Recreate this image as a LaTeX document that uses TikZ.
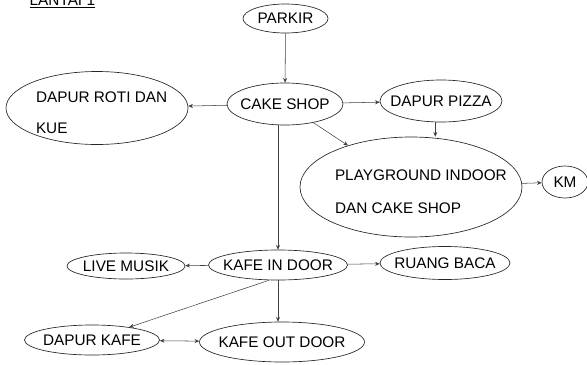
\documentclass[tikz,border=0pt]{standalone}
\usepackage{fontspec}
\setmainfont{Liberation Sans}
\usetikzlibrary{arrows.meta,shapes.geometric}
\newcommand{\lbl}[1]{\makebox[0pt]{#1}}

\begin{document}
\begin{tikzpicture}[%
x={(0.75pt,0pt)},
y={(0pt,-0.75pt)},
font=\fontsize{11.5}{13.8}\selectfont,
>={Stealth[length=3.5pt,width=3pt]},
ruang/.style={ellipse,draw=black!85,line width=0.5pt,inner sep=0pt},
alur/.style={draw=black!75,line width=0.4pt,->},
]
\useasboundingbox (0,0) rectangle (587,365);

\node[anchor=base west](judul) at (25,5){\underline{LANTAI 1}};

%Ruang
\node[ruang,minimum width=63.75pt,minimum height=21.75pt](parkir) at (285.5,18.5){\lbl{PARKIR}};
\node[ruang,minimum width=87pt,minimum height=31.5pt](cakeshop) at (285,104){\lbl{CAKE SHOP}};
\node[ruang,minimum width=136.5pt,minimum height=54.75pt](rotikue) at (97,108){\makebox[0pt][l]{\hspace{-45.75pt}\raisebox{-7.6pt}[0pt][0pt]{\begin{tabular}{@{}l@{}}DAPUR ROTI DAN\\[9.45pt]KUE\end{tabular}}}};
\node[ruang,minimum width=91.5pt,minimum height=31.5pt](pizza) at (441,101){\lbl{DAPUR PIZZA}};
\node[ruang,minimum width=166.5pt,minimum height=75pt](playground) at (411,187){\makebox[0pt][l]{\hspace{-57pt}\raisebox{-7.6pt}[0pt][0pt]{\begin{tabular}{@{}l@{}}PLAYGROUND INDOOR\\[10.95pt]DAN CAKE SHOP\end{tabular}}}};
\node[ruang,minimum width=34.5pt,minimum height=24pt](km) at (565,182){\lbl{KM}};
\node[ruang,minimum width=88.5pt,minimum height=19.5pt](livemusik) at (126,266){\lbl{LIVE MUSIK}};
\node[ruang,minimum width=104.25pt,minimum height=22.5pt](kafein) at (278,265){\lbl{KAFE IN DOOR}};
\node[ruang,minimum width=97.5pt,minimum height=24.75pt](ruangbaca) at (445,263){\lbl{RUANG BACA}};
\node[ruang,minimum width=101.25pt,minimum height=22.5pt](dapurkafe) at (92,340){\lbl{DAPUR KAFE}};
\node[ruang,minimum width=123.75pt,minimum height=30pt](kafeout) at (282,342){\lbl{KAFE OUT DOOR}};

%Alur
\draw[alur] (parkir) -- (cakeshop);
\draw[alur] (cakeshop) -- (rotikue);
\draw[alur] (cakeshop) -- (pizza);
\draw[alur] (cakeshop) -- (playground);
\draw[alur] (pizza.-105) -- (pizza.-105 |- playground.north);
\draw[alur] (playground) -- (km);
\draw[alur] (cakeshop.south -| kafein.north) -- (kafein.north);
\draw[alur] (kafein) -- (livemusik);
\draw[alur] (kafein) -- (ruangbaca);
\draw[alur] (kafein.-120) -- (dapurkafe.19);
\draw[alur] (kafein.south) -- (kafein.south |- kafeout.north);
\draw[alur,<->] (dapurkafe) -- (kafeout);

\end{tikzpicture}
\end{document}
